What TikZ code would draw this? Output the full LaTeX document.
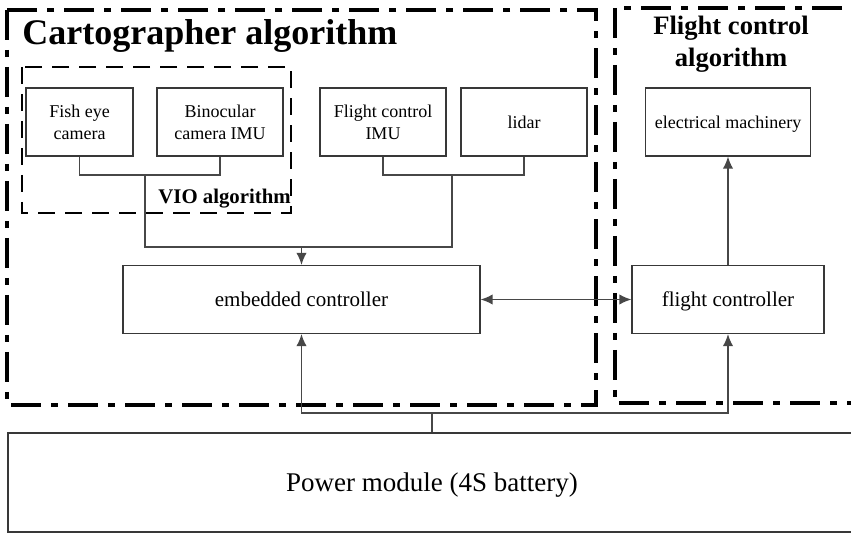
\documentclass[tikz,border=0pt]{standalone}
\usepackage{fontspec}
\setmainfont{Liberation Serif}
\usepackage{tikz}
\usetikzlibrary{arrows.meta, positioning}

\begin{document}
\begin{tikzpicture}[
  x=0.5pt, y=-0.5pt,
  line join=miter,
  >=Latex,
  tip/.tip={Latex[length=6pt,width=5.2pt]},
  wire/.style={line width=0.7pt, draw=black!72},
  flow/.style={wire, -tip},
  box/.style={
    draw=black!78, line width=0.65pt, align=center,
    inner sep=1pt, minimum height=34pt, text depth=0pt
  },
  sensor/.style={box, font=\fontsize{9}{11}\selectfont, minimum width=63pt},
  ctrl/.style={box, font=\fontsize{10.5}{12}\selectfont},
  algo/.style={draw=black, line width=1.6pt,
    dash pattern=on 15pt off 5pt on 3.5pt off 5pt},
  vio/.style={draw=black, line width=1.2pt, dash pattern=on 8.5pt off 5pt},
  grouplabel/.style={font=\bfseries, text=black}
]
\useasboundingbox (0,0) rectangle (851,533);
\clip (0,0) rectangle (851,533);

%% group frames
\draw[algo] (7,10) rectangle (596,405);
\draw[algo] (615,8) rectangle (875,403);
\draw[vio] (22,67) rectangle (291,213);

\node[grouplabel, font=\fontsize{18}{20}\bfseries\selectfont,
      anchor=base west, inner sep=0pt] (cartoT) at (22,45)
  {Cartographer algorithm};
\node[grouplabel, font=\fontsize{13.3}{16}\bfseries\selectfont,
      align=center, inner sep=0pt] (fcaT) at (731,44)
  {Flight control\\algorithm};
\node[grouplabel, font=\fontsize{10.4}{12}\bfseries\selectfont,
      anchor=base west, inner sep=0pt] (vioT) at (158,204)
  {VIO algorithm};

%% sensors
\def\yS{122}
\node[sensor, minimum width=53.5pt] (fish) at (79.5,\yS) {Fish eye\\camera};
\node[sensor] (bino) at (220,\yS)  {Binocular\\camera IMU};
\node[sensor] (fcimu) at (383,\yS) {Flight control\\IMU};
\node[sensor] (lidar) at (524,\yS) {lidar};
\node[sensor, minimum width=82.5pt] (motor) at (728,\yS)
  {electrical machinery};

%% controllers
\node[ctrl, minimum width=178.5pt] (emb) at (301.5,299.5) {embedded controller};
\node[ctrl, minimum width=96pt] (fc) at (728,299.5) {flight controller};

%% power
\node[box, font=\fontsize{13.5}{15}\selectfont, minimum width=424pt,
      minimum height=49.5pt] (power) at (432,482.5)
  {Power module (4S battery)};

%% connectors
\coordinate (camBus) at (145,175);
\coordinate (imuBus) at (452,175);
\coordinate (sensBus) at (301.5,247);
\draw[wire] (fish.south) |- (camBus) -| (bino.south);
\draw[wire] (fcimu.south) |- (imuBus) -| (lidar.south);
\draw[wire] (camBus) |- (sensBus) -| (imuBus);
\draw[flow] (sensBus) -- (emb.north);

\draw[wire, tip-tip] (emb.east) -- (fc.west);
\draw[flow] (fc.north) -- (motor.south);

\coordinate (pwrBus) at (432,413);
\draw[wire] (power.north) -- (pwrBus);
\draw[flow] (pwrBus) -| (emb.south);
\draw[flow] (pwrBus) -| (fc.south);
\end{tikzpicture}
\end{document}
